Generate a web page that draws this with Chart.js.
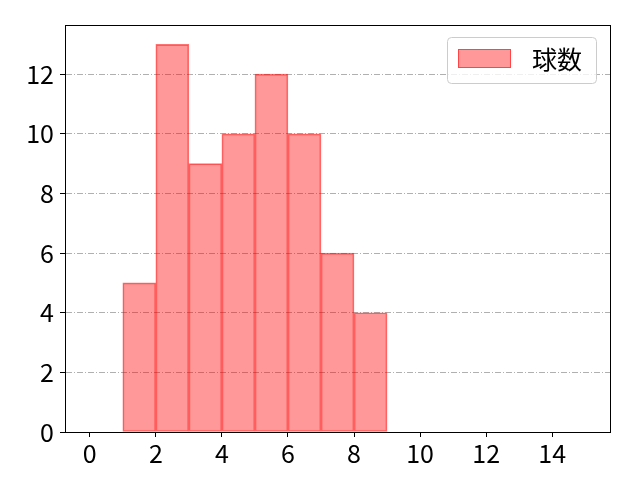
<!DOCTYPE html>
<html>
<head>
<meta charset="utf-8">
<script src="https://cdn.jsdelivr.net/npm/chart.js@4/dist/chart.umd.min.js"></script>
<style>
  html, body { margin: 0; padding: 0; background: #fff; }
  canvas { display: block; }
</style>
</head>
<body>
<canvas id="histChart" width="640" height="480"></canvas>
<script>
// histogram bins (edges) and counts
const binEdges = [1, 2, 3, 4, 5, 6, 7, 8, 9];
const counts = [5, 13, 9, 10, 12, 10, 6, 4];
const seriesLabel = '球数';
const xTickValues = [0, 2, 4, 6, 8, 10, 12, 14];
const yTickValues = [0, 2, 4, 6, 8, 10, 12];

const FONT = "'Noto Sans CJK JP', 'Noto Sans', sans-serif";

const points = counts.map((c, i) => ({ x: (binEdges[i] + binEdges[i + 1]) / 2, y: c }));

// top/right spines
const framePlugin = {
  id: 'frame',
  afterDraw(chart) {
    const { ctx, chartArea: a } = chart;
    ctx.save();
    ctx.strokeStyle = '#000';
    ctx.lineWidth = 1;
    ctx.strokeRect(Math.round(a.left) + 0.5, Math.round(a.top) + 0.5,
      Math.round(a.right - a.left), Math.round(a.bottom - a.top));
    ctx.restore();
  }
};

// matplotlib-like legend box in the top-right corner
const legendPlugin = {
  id: 'boxLegend',
  afterDraw(chart) {
    const ctx = chart.ctx;
    const ds = chart.data.datasets[0];
    const x = 447.5, y = 37.5, w = 149, h = 46, r = 4;
    ctx.save();
    ctx.beginPath();
    ctx.roundRect(x, y, w, h, r);
    ctx.fillStyle = 'rgba(255,255,255,0.8)';
    ctx.fill();
    ctx.strokeStyle = '#cccccc';
    ctx.lineWidth = 1;
    ctx.stroke();

    ctx.fillStyle = ds.backgroundColor;
    ctx.fillRect(458, 49, 53, 19);
    ctx.strokeStyle = ds.borderColor;
    ctx.strokeRect(458.5, 49.5, 52, 18);

    ctx.fillStyle = '#000';
    ctx.font = '25px ' + FONT;
    ctx.textBaseline = 'middle';
    ctx.textAlign = 'left';
    ctx.fillText(ds.label, 532, 59);
    ctx.restore();
  }
};

const ctx = document.getElementById('histChart').getContext('2d');

const config = {
  type: 'bar',
  data: {
    datasets: [{
      label: seriesLabel,
      data: points,
      backgroundColor: 'rgba(255, 0, 0, 0.4)',
      borderColor: 'rgba(255, 0, 0, 0.55)',
      borderWidth: 1,
      borderSkipped: false,
      barPercentage: 1,
      categoryPercentage: 1,
    }]
  },
  options: {
    responsive: false,
    animation: false,
    devicePixelRatio: 1,
    layout: {
      padding: { top: 25, right: 30, left: 0, bottom: 0 }
    },
    plugins: {
      legend: { display: false },
      tooltip: { enabled: false },
    },
    scales: {
      x: {
        type: 'linear',
        offset: false,
        min: -0.75,
        max: 15.75,
        afterBuildTicks(scale) {
          scale.ticks = xTickValues.map(v => ({ value: v }));
        },
        afterFit(scale) {
          scale.height = 48;
        },
        ticks: {
          color: '#000',
          padding: 1,
          maxRotation: 0,
          font: { family: FONT, size: 25 },
        },
        grid: {
          offset: false,
          drawOnChartArea: false,
          drawTicks: true,
          tickLength: 5,
          tickColor: '#000',
        },
        border: { display: true, color: '#000', width: 1 },
      },
      y: {
        min: 0,
        max: 13.65,
        afterBuildTicks(scale) {
          scale.ticks = yTickValues.map(v => ({ value: v }));
        },
        afterFit(scale) {
          scale.width = 65;
        },
        ticks: {
          color: '#000',
          padding: 6,
          font: { family: FONT, size: 25 },
        },
        grid: {
          color: '#b0b0b0',
          lineWidth: 1,
          drawTicks: true,
          tickLength: 5,
          tickColor: '#000',
        },
        border: { display: true, color: '#000', width: 1, dash: [6, 2, 1, 2] },
      }
    }
  },
  plugins: [framePlugin, legendPlugin]
};

const chartInstance = new Chart(ctx, config);
</script>
</body>
</html>
